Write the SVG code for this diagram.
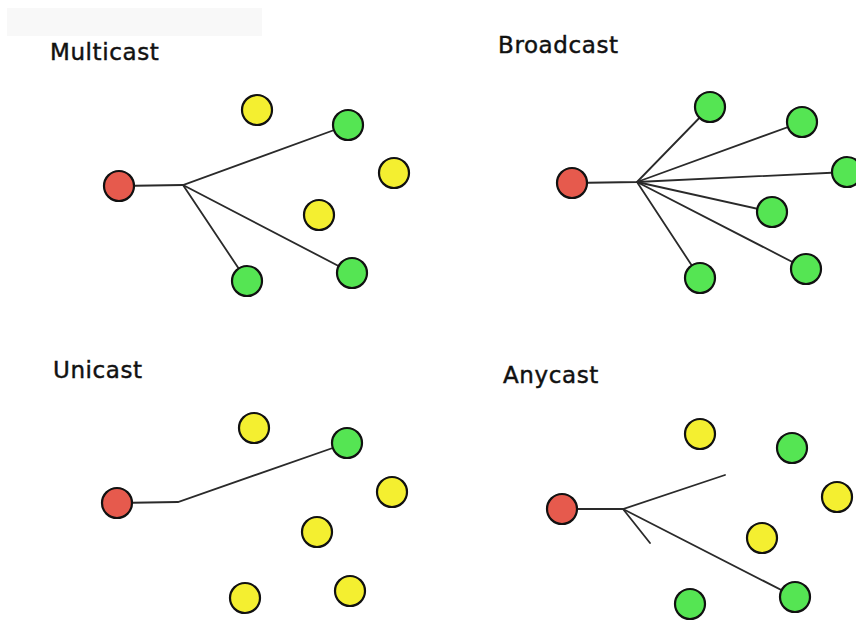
<svg xmlns="http://www.w3.org/2000/svg" width="856" height="624" viewBox="0 0 856 624">
  <style>
    .title { font-family: "DejaVu Sans", Verdana, sans-serif; font-size: 23px; letter-spacing: 0.6px; fill: #111; stroke: #111; stroke-width: 0.45; }
    .node { stroke: #111; stroke-width: 2.2; }
    .src { fill: #e65a4d; }
    .dst { fill: #55e553; }
    .idle { fill: #f4ef30; }
    .link { stroke: #2a2a2a; stroke-width: 1.8; fill: none; stroke-linecap: round; }
  </style>
  <rect width="856" height="624" fill="#ffffff"/>
  <rect x="7" y="8" width="255" height="28" fill="#f8f8f8"/>

  <!-- Section titles -->
  <text class="title" x="50" y="60">Multicast</text>
  <text class="title" x="498" y="53">Broadcast</text>
  <text class="title" x="53" y="378">Unicast</text>
  <text class="title" x="503" y="383">Anycast</text>

  <!-- Connectors -->
  <g id="connectors">
    <!-- Multicast -->
    <polyline class="link" points="119,186 183,185 348,125"/>
    <line class="link" x1="183" y1="185" x2="247" y2="281"/>
    <line class="link" x1="183" y1="185" x2="352" y2="273"/>
    <!-- Broadcast -->
    <polyline class="link" points="572,183 637,182 710,107"/>
    <line class="link" x1="637" y1="182" x2="802" y2="122"/>
    <line class="link" x1="637" y1="182" x2="847" y2="172"/>
    <line class="link" x1="637" y1="182" x2="772" y2="212"/>
    <line class="link" x1="637" y1="182" x2="806" y2="269"/>
    <line class="link" x1="637" y1="182" x2="700" y2="278"/>
    <!-- Unicast -->
    <polyline class="link" points="117,503 178,502 347,443"/>
    <!-- Anycast -->
    <polyline class="link" points="562,509 623,509 725,475"/>
    <line class="link" x1="623" y1="509" x2="650" y2="543"/>
    <line class="link" x1="623" y1="509" x2="795" y2="597"/>
  </g>

  <!-- Multicast nodes -->
  <g id="multicast-source"><circle class="node src" cx="119" cy="186" r="15"/></g>
  <g id="multicast-n1"><circle class="node idle" cx="257" cy="110" r="15"/></g>
  <g id="multicast-n2"><circle class="node dst" cx="348" cy="125" r="15"/></g>
  <g id="multicast-n3"><circle class="node idle" cx="394" cy="173" r="15"/></g>
  <g id="multicast-n4"><circle class="node idle" cx="319" cy="215" r="15"/></g>
  <g id="multicast-n5"><circle class="node dst" cx="247" cy="281" r="15"/></g>
  <g id="multicast-n6"><circle class="node dst" cx="352" cy="273" r="15"/></g>

  <!-- Broadcast nodes -->
  <g id="broadcast-source"><circle class="node src" cx="572" cy="183" r="15"/></g>
  <g id="broadcast-n1"><circle class="node dst" cx="710" cy="107" r="15"/></g>
  <g id="broadcast-n2"><circle class="node dst" cx="802" cy="122" r="15"/></g>
  <g id="broadcast-n3"><circle class="node dst" cx="847" cy="172" r="15"/></g>
  <g id="broadcast-n4"><circle class="node dst" cx="772" cy="212" r="15"/></g>
  <g id="broadcast-n5"><circle class="node dst" cx="806" cy="269" r="15"/></g>
  <g id="broadcast-n6"><circle class="node dst" cx="700" cy="278" r="15"/></g>

  <!-- Unicast nodes -->
  <g id="unicast-source"><circle class="node src" cx="117" cy="503" r="15"/></g>
  <g id="unicast-n1"><circle class="node idle" cx="254" cy="428" r="15"/></g>
  <g id="unicast-n2"><circle class="node dst" cx="347" cy="443" r="15"/></g>
  <g id="unicast-n3"><circle class="node idle" cx="392" cy="492" r="15"/></g>
  <g id="unicast-n4"><circle class="node idle" cx="317" cy="532" r="15"/></g>
  <g id="unicast-n5"><circle class="node idle" cx="245" cy="598" r="15"/></g>
  <g id="unicast-n6"><circle class="node idle" cx="350" cy="591" r="15"/></g>

  <!-- Anycast nodes -->
  <g id="anycast-source"><circle class="node src" cx="562" cy="509" r="15"/></g>
  <g id="anycast-n1"><circle class="node idle" cx="700" cy="434" r="15"/></g>
  <g id="anycast-n2"><circle class="node dst" cx="792" cy="448" r="15"/></g>
  <g id="anycast-n3"><circle class="node idle" cx="837" cy="497" r="15"/></g>
  <g id="anycast-n4"><circle class="node idle" cx="762" cy="538" r="15"/></g>
  <g id="anycast-n5"><circle class="node dst" cx="690" cy="604" r="15"/></g>
  <g id="anycast-n6"><circle class="node dst" cx="795" cy="597" r="15"/></g>
</svg>
